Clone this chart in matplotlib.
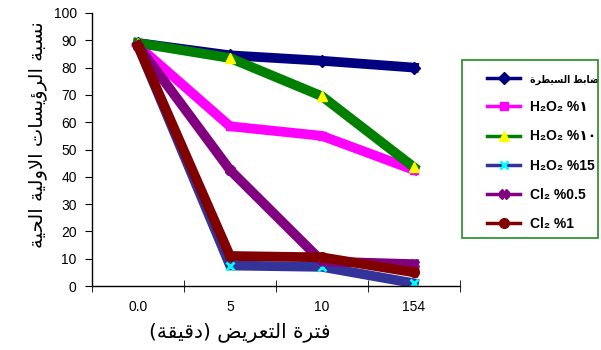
import numpy as np
import matplotlib
matplotlib.use("Agg")
import matplotlib.pyplot as plt
from matplotlib.patches import Rectangle

plt.rcParams.update({
    "font.family": ["Liberation Sans", "DejaVu Sans"],
    "font.size": 10,
    "axes.linewidth": 1.0,
})

# data
times = ["0.0", "5", "10", "154"]
control = [89, 84.5, 82.5, 80]
h2o2_1 = [88, 58.5, 55, 42.5]
h2o2_10 = [89, 83.5, 69.5, 43.5]
h2o2_15 = [88, 7.5, 7, 1]
cl2_05 = [88, 42.5, 9, 8]
cl2_1 = [88, 11, 10.5, 5]

ylabel_txt = "نسبة الرؤيسات الاولية الحية"
xlabel_txt = "فترة التعريض (دقيقة)"
control_txt = "ضابط السيطرة"

# isolated, final, initial, medial presentation forms
FORMS = {
    "ا": ("\uFE8D", "\uFE8E", None, None),
    "ب": ("\uFE8F", "\uFE90", "\uFE91", "\uFE92"),
    "ة": ("\uFE93", "\uFE94", None, None),
    "ت": ("\uFE95", "\uFE96", "\uFE97", "\uFE98"),
    "ح": ("\uFEA1", "\uFEA2", "\uFEA3", "\uFEA4"),
    "د": ("\uFEA9", "\uFEAA", None, None),
    "ر": ("\uFEAD", "\uFEAE", None, None),
    "س": ("\uFEB1", "\uFEB2", "\uFEB3", "\uFEB4"),
    "ض": ("\uFEBD", "\uFEBE", "\uFEBF", "\uFEC0"),
    "ط": ("\uFEC1", "\uFEC2", "\uFEC3", "\uFEC4"),
    "ع": ("\uFEC9", "\uFECA", "\uFECB", "\uFECC"),
    "ف": ("\uFED1", "\uFED2", "\uFED3", "\uFED4"),
    "ق": ("\uFED5", "\uFED6", "\uFED7", "\uFED8"),
    "ل": ("\uFEDD", "\uFEDE", "\uFEDF", "\uFEE0"),
    "ن": ("\uFEE5", "\uFEE6", "\uFEE7", "\uFEE8"),
    "و": ("\uFEED", "\uFEEE", None, None),
    "ي": ("\uFEF1", "\uFEF2", "\uFEF3", "\uFEF4"),
    "ؤ": ("\uFE85", "\uFE86", None, None),
}


def shape(text):
    """Very small arabic shaper: joining forms + lam-alef, then visual order."""
    chars = list(text)
    n = len(chars)
    out = []
    i = 0
    while i < n:
        c = chars[i]
        f = FORMS.get(c)
        if f is None:
            out.append(c)
            i += 1
            continue
        pf = FORMS.get(chars[i - 1]) if i > 0 else None
        joins_prev = pf is not None and pf[2] is not None
        if c == "ل" and i + 1 < n and chars[i + 1] == "ا":
            out.append("\uFEFC" if joins_prev else "\uFEFB")
            i += 2
            continue
        nxt = chars[i + 1] if i + 1 < n else None
        joins_next = f[2] is not None and nxt in FORMS
        if joins_prev and joins_next:
            g = f[3]
        elif joins_prev:
            g = f[1]
        elif joins_next:
            g = f[2]
        else:
            g = f[0]
        out.append(g)
        i += 1
    vis = "".join(out)[::-1]
    return vis.translate(str.maketrans("()", ")("))


W, H = 601, 350
fig = plt.figure(figsize=(W / 100, H / 100), dpi=100)
ax = fig.add_axes([92 / W, 1 - 286 / H, 368 / W, 273 / H])

x = np.arange(len(times))
series = [
    (control, shape(control_txt), "#000080", "D", "#000080", 6),
    (h2o2_1, "H\u2082O\u2082 %\u0661", "#FF00FF", "s", "#FF00FF", 6),
    (h2o2_10, "H\u2082O\u2082 %\u0661\u0660", "#008000", "^", "#FFFF00", 7),
    (h2o2_15, "H\u2082O\u2082 %15", "#333399", "x", "#00FFFF", 6),
    (cl2_05, "Cl\u2082 %0.5", "#800080", "X", "#800080", 7),
    (cl2_1, "Cl\u2082 %1", "#800000", "o", "#800000", 7),
]
for vals, lab, col, mk, mcol, ms in series:
    ax.plot(x, vals, color=col, lw=7, marker=mk, ms=ms, mfc=mcol, mec=mcol,
            mew=2 if mk == "x" else 1, label=lab, solid_joinstyle="miter")

ax.set_xlim(-0.5, len(times) - 0.5)
ax.set_ylim(0, 100)
ax.set_yticks(np.arange(0, 101, 10))
ax.set_xticks(x)
ax.set_xticklabels(times)
ax.set_xticks(np.arange(-0.5, len(times), 1), minor=True)
ax.tick_params(axis="x", which="major", length=0, pad=10)
ax.tick_params(axis="x", which="minor", length=9, direction="inout")
ax.tick_params(axis="y", length=5, pad=6)
for s in ["top", "right"]:
    ax.spines[s].set_visible(False)

ax.set_xlabel(shape(xlabel_txt), fontsize=14.5, family="DejaVu Sans", va="center")
ax.xaxis.set_label_coords((240 - 92) / 368, (286 - 332) / 273)
ax.set_ylabel(shape(ylabel_txt), fontsize=14, family="DejaVu Sans", va="center")
ax.yaxis.set_label_coords((38 - 92) / 368, (286 - 135) / 273)

# legend box as in the original (border drawn separately)
fig.patches.append(Rectangle((462 / W, 1 - 238 / H), 136 / W, 178 / H,
                             transform=fig.transFigure, fill=False,
                             edgecolor="#228B22", lw=1.2))
leg = ax.legend(loc="upper left", bbox_to_anchor=(480 / W, 1 - 66 / H),
                bbox_transform=fig.transFigure, frameon=False, borderpad=0,
                handlelength=2.4, handletextpad=0.7, labelspacing=1.1,
                prop={"weight": "bold", "size": 10})
for h in leg.legend_handles:
    h.set_linewidth(2.5)
arabic_entry = leg.get_texts()[0]
arabic_entry.set_fontsize(7.5)
arabic_entry.set_fontstretch("condensed")

fig.savefig("out.png", dpi=100)
